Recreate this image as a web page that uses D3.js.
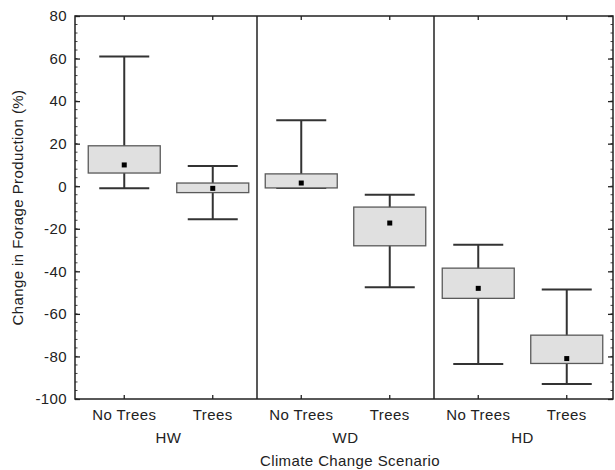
<!DOCTYPE html>
<html lang="en">
<head>
<meta charset="UTF-8">
<title>forage-boxplot</title>
<script src="https://cdn.jsdelivr.net/npm/d3@7"></script>
<style>
	body { margin: 0; background: #fff; }
	text { font-family: "Liberation Sans", Arial, sans-serif; fill: #222; letter-spacing: 0.4px; }
	.box { fill: #e0e0e0; stroke: #5a5a5a; stroke-width: 1.3px; }
	.whisk { stroke: #333; stroke-width: 2px; fill: none; }
	.frame { stroke: #222; stroke-width: 1.5px; fill: none; }
</style>
</head>
<body>
<svg id="svg" width="615" height="470"></svg>
<script>
	var scenarios = ['HW', 'WD', 'HD'];
	var treatments = ['No Trees', 'Trees'];
	// per box, in order HW/NoTrees, HW/Trees, WD/NoTrees, ...
	var whiskerHigh = [61, 9.5, 31, -4, -27.5, -48.5];
	var boxHigh     = [19, 1.5, 5.8, -9.8, -38.5, -70];
	var median      = [10, -1, 1.5, -17.3, -48, -81];
	var boxLow      = [6.2, -3, -0.8, -28, -52.7, -83.3];
	var whiskerLow  = [-1, -15.5, -0.8, -47.5, -83.5, -93];
	var yTicks = [-100, -80, -60, -40, -20, 0, 20, 40, 60, 80];

	var svg = d3.select('svg');
	var L = 75, R = 613, T = 16, B = 399;
	var fs = '15px';

	var cells = [];
	scenarios.forEach(function (s) {
		treatments.forEach(function (t) { cells.push(s + '|' + t); });
	});

	var y = d3.scaleLinear().domain([-100, 80]).range([B, T]);
	var x = d3.scaleBand().domain(cells).range([80, 611]);
	var cx = function (i) { return x(cells[i]) + x.bandwidth() / 2; };

	// minor ticks on left and right
	var minor = d3.range(-100, 80.1, 4);
	svg.selectAll('.minL').data(minor).enter().append('line')
		.attr('x1', L).attr('x2', L + 2.5)
		.attr('y1', function (d) { return y(d); }).attr('y2', function (d) { return y(d); })
		.attr('stroke', '#444').attr('stroke-width', 1);
	svg.selectAll('.minR').data(minor).enter().append('line')
		.attr('x1', R).attr('x2', R - 2.5)
		.attr('y1', function (d) { return y(d); }).attr('y2', function (d) { return y(d); })
		.attr('stroke', '#444').attr('stroke-width', 1);

	// left axis
	var yAxis = d3.axisLeft(y).tickValues(yTicks).tickSizeInner(-5).tickSizeOuter(0).tickPadding(8)
		.tickFormat(function (d) { return String(d); });
	var gy = svg.append('g').attr('transform', 'translate(' + L + ',0)').call(yAxis);
	gy.select('.domain').remove();
	gy.selectAll('line').attr('stroke', '#222').attr('stroke-width', 1.3);
	gy.selectAll('text').style('font-size', fs).attr('fill', '#222');

	var gr = svg.append('g').attr('transform', 'translate(' + R + ',0)')
		.call(d3.axisRight(y).tickValues(yTicks).tickSizeInner(-5).tickSizeOuter(0).tickFormat(''));
	gr.select('.domain').remove();
	gr.selectAll('line').attr('stroke', '#222').attr('stroke-width', 1.3);

	// bottom axis with category labels
	var xAxis = d3.axisBottom(x).tickSizeInner(-4).tickSizeOuter(0).tickPadding(10)
		.tickFormat(function (d) { return d.split('|')[1]; });
	var gx = svg.append('g').attr('transform', 'translate(0,' + B + ')').call(xAxis);
	gx.select('.domain').remove();
	gx.selectAll('line').attr('stroke', '#222').attr('stroke-width', 1.3);
	gx.selectAll('text').style('font-size', fs).attr('fill', '#222');

	var gt = svg.append('g').attr('transform', 'translate(0,' + T + ')')
		.call(d3.axisTop(x).tickSizeInner(-4).tickSizeOuter(0).tickFormat(''));
	gt.select('.domain').remove();
	gt.selectAll('line').attr('stroke', '#222').attr('stroke-width', 1.3);

	// scenario labels and dividers
	scenarios.forEach(function (s, k) {
		var a = x(s + '|' + treatments[0]), b = x(s + '|' + treatments[1]) + x.bandwidth();
		svg.append('text').attr('x', (a + b) / 2).attr('y', 443)
			.attr('text-anchor', 'middle').style('font-size', fs).text(s);
		if (k > 0) {
			svg.append('line').attr('class', 'frame').attr('x1', a).attr('x2', a)
				.attr('y1', T).attr('y2', B);
		}
	});

	// frame
	svg.append('rect').attr('class', 'frame').attr('x', L).attr('y', T)
		.attr('width', R - L).attr('height', B - T);

	// boxes
	var boxW = 72, capW = 50;
	cells.forEach(function (c, i) {
		var g = svg.append('g');
		var xc = cx(i);
		g.append('line').attr('class', 'whisk').attr('x1', xc).attr('x2', xc)
			.attr('y1', y(whiskerHigh[i])).attr('y2', y(whiskerLow[i]));
		g.append('line').attr('class', 'whisk').attr('x1', xc - capW / 2).attr('x2', xc + capW / 2)
			.attr('y1', y(whiskerHigh[i])).attr('y2', y(whiskerHigh[i]));
		g.append('line').attr('class', 'whisk').attr('x1', xc - capW / 2).attr('x2', xc + capW / 2)
			.attr('y1', y(whiskerLow[i])).attr('y2', y(whiskerLow[i]));
		g.append('rect').attr('class', 'box').attr('x', xc - boxW / 2).attr('y', y(boxHigh[i]))
			.attr('width', boxW).attr('height', y(boxLow[i]) - y(boxHigh[i]));
		g.append('rect').attr('x', xc - 2.5).attr('y', y(median[i]) - 2.5)
			.attr('width', 5).attr('height', 5).attr('fill', '#000');
	});

	// axis titles
	svg.append('text').attr('x', 350).attr('y', 466).attr('text-anchor', 'middle')
		.style('font-size', fs).text('Climate Change Scenario');
	svg.append('text').attr('transform', 'translate(23,' + ((T + B) / 2) + ') rotate(-90)')
		.attr('text-anchor', 'middle').style('font-size', fs)
		.text('Change in Forage Production (%)');
</script>
</body>
</html>
